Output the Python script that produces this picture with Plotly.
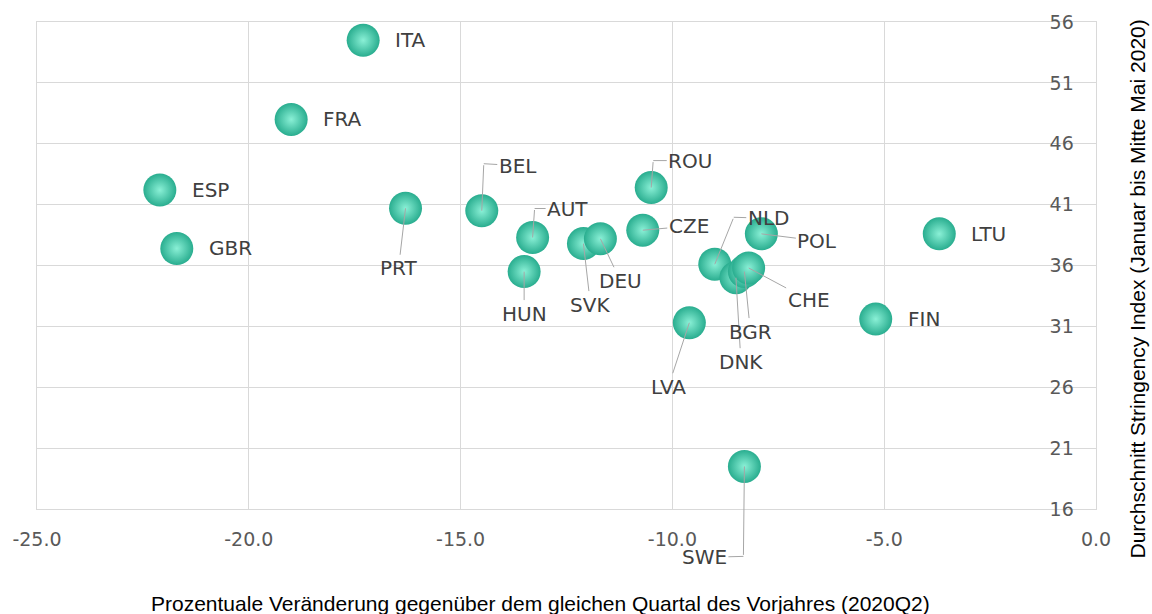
import plotly.graph_objects as go

countries = ["ITA", "FRA", "ESP", "GBR", "PRT", "BEL", "AUT", "HUN", "SVK", "DEU",
             "ROU", "CZE", "LVA", "NLD", "POL", "DNK", "BGR", "CHE", "FIN", "LTU", "SWE"]
gdp_change = [-17.3, -19.0, -22.1, -21.7, -16.3, -14.5, -13.3, -13.5, -12.1, -11.7,
              -10.5, -10.7, -9.6, -9.0, -7.9, -8.5, -8.3, -8.2, -5.2, -3.7, -8.3]
stringency = [54.5, 48.0, 42.2, 37.4, 40.7, 40.5, 38.3, 35.5, 37.8, 38.2,
              42.4, 38.9, 31.3, 36.1, 38.6, 35.0, 35.5, 35.8, 31.6, 38.6, 19.5]
# label offsets (pixels) from the marker centre; None = label to the right, no leader line
label_ax = [None, None, None, None, -7, 36, 35, 0, 7, 20,
            39, 46, -21, 54, 56, 5, 6, 60, None, None, -40]
label_ay = [None, None, None, None, 60, -45, -29, 42, 61, 42,
            -27, -4, 64, -46, 7, 84, 60, 32, None, None, 91]
# bend point of elbow leader lines (pixels from marker centre); None = straight line
elbow_dx = [None, None, None, None, None, 2, 2, None, None, None,
            2, None, None, 19, None, None, None, None, None, None, -1]
elbow_dy = [None, None, None, None, None, -47, -29, None, None, None,
            -27, None, None, -47, None, None, None, None, None, None, 90]

x_ticks = [-25, -20, -15, -10, -5, 0]
x_tick_labels = ["-25.0", "-20.0", "-15.0", "-10.0", "-5.0", "0.0"]
y_ticks = [16, 21, 26, 31, 36, 41, 46, 51, 56]

x_title = "Prozentuale Veränderung gegenüber dem gleichen Quartal des Vorjahres (2020Q2)"
y_title = "Durchschnitt Stringency Index (Januar bis Mitte Mai 2020)"

fig = go.Figure()
fig.add_trace(go.Scatter(
    x=gdp_change, y=stringency, mode="markers",
    marker=dict(size=33, color="#29ad8f",
                gradient=dict(type="radial", color="#8af0d6"),
                line=dict(width=0)),
    hovertext=countries, showlegend=False,
))
# invisible copy so the inner tick-label axis is drawn
fig.add_trace(go.Scatter(
    x=gdp_change, y=stringency, yaxis="y2", mode="markers",
    marker=dict(size=1, opacity=0), hoverinfo="skip", showlegend=False,
))

label_font = dict(family="DejaVu Sans", size=20, color="#404040")
line_style = dict(arrowhead=0, arrowwidth=1, arrowcolor="#a6a6a6", standoff=0)
annotations = []
for c, xv, yv, ax, ay, ex, ey in zip(countries, gdp_change, stringency,
                                     label_ax, label_ay, elbow_dx, elbow_dy):
    if ax is None:
        annotations.append(dict(x=xv, y=yv, text=c, showarrow=False, xanchor="left",
                                xshift=30, font=label_font))
    elif ex is None:
        annotations.append(dict(x=xv, y=yv, text=c, showarrow=True, ax=ax, ay=ay,
                                font=label_font, **line_style))
    else:
        # segment from the marker to the bend
        annotations.append(dict(x=xv, y=yv, text="", showarrow=True, ax=ex, ay=ey,
                                **line_style))
        # label with a short horizontal segment to the bend
        annotations.append(dict(x=xv, y=yv, xshift=ex, yshift=-ey, text=c,
                                showarrow=True, ax=ax - ex, ay=ay - ey,
                                font=label_font, **line_style))

title_font = dict(family="Liberation Sans", size=21, color="#000000")
annotations.append(dict(
    xref="paper", yref="paper", x=0.475, y=0, yshift=-94, yanchor="middle",
    text=x_title, showarrow=False, font=title_font))
annotations.append(dict(
    xref="paper", yref="paper", x=1, y=0.5, xshift=41, yshift=-24,
    xanchor="center", yanchor="middle", textangle=-90,
    text=y_title, showarrow=False, font=title_font))

tick_font = dict(family="DejaVu Sans", size=19, color="#595959")
fig.update_layout(
    width=1152, height=614,
    margin=dict(l=37, r=56, t=22, b=105),
    paper_bgcolor="white", plot_bgcolor="white",
    annotations=annotations,
    xaxis=dict(range=[-25, 0], tickvals=x_ticks, ticktext=x_tick_labels,
               showgrid=True, gridcolor="#d9d9d9", gridwidth=1,
               zeroline=False, showline=True, mirror=True, linecolor="#d9d9d9",
               ticks="", ticklabelstandoff=13, automargin=False,
               tickfont=tick_font),
    yaxis=dict(range=[16, 56], tickvals=y_ticks, side="right",
               showticklabels=False, automargin=False,
               showgrid=True, gridcolor="#d9d9d9", gridwidth=1,
               zeroline=False, showline=True, mirror=True, linecolor="#d9d9d9",
               ticks=""),
    yaxis2=dict(range=[16, 56], tickvals=y_ticks, overlaying="y", matches="y",
                anchor="free", position=0.979, side="left",
                showgrid=False, showline=False, zeroline=False, ticks="",
                automargin=False, tickfont=tick_font),
)

fig.write_html("out.html", config={"displayModeBar": False},
               post_script="document.body.style.margin='0';document.body.style.padding='0';")
